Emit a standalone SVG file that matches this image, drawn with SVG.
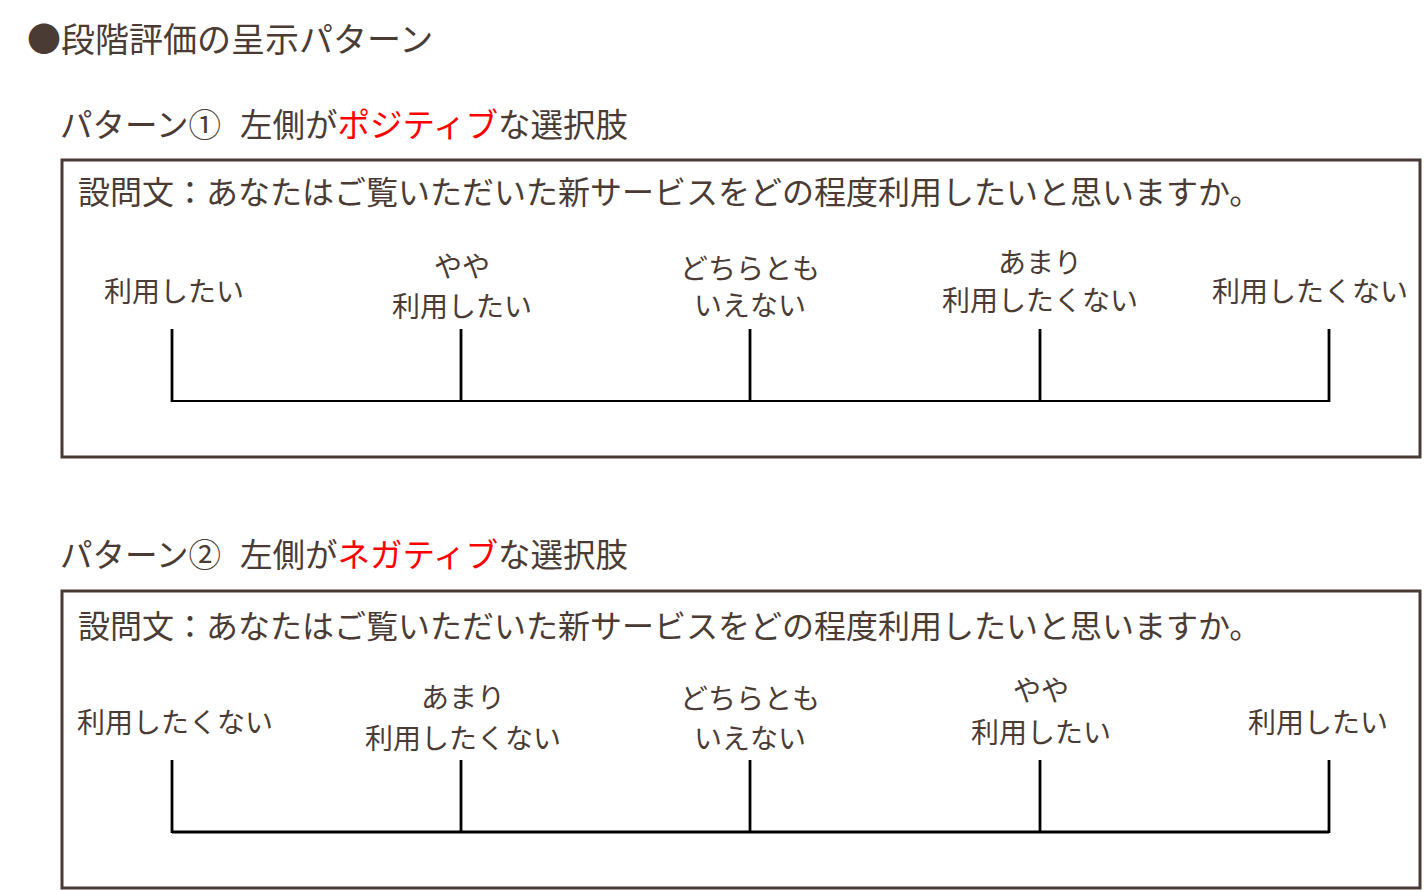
<svg xmlns="http://www.w3.org/2000/svg" width="1427" height="890" viewBox="0 0 1427 890">
<style>
text{font-family:"Noto Sans CJK JP","Noto Sans",sans-serif;fill:#4a3c35;}
.title{font-size:34px;}
.head{font-size:32.5px;}
.q{font-size:32px;}
.lbl{font-size:28px;text-anchor:middle;}
.red{fill:#ff0000;}
.box{fill:#ffffff;stroke:#4a3a33;stroke-width:3;}
.tick{stroke:#000000;stroke-width:2.8;fill:none;}
.base{stroke:#000000;stroke-width:2.2;fill:none;}
</style>
<rect width="1427" height="890" fill="#ffffff"/>
<g id="title"><text class="title" x="27" y="52">●段階評価の呈示パターン</text></g>

<g id="pattern1">
<text class="head" x="60" y="137">パターン①<tspan x="240">左側が</tspan><tspan class="red">ポジティブ</tspan><tspan>な選択肢</tspan></text>
<rect class="box" x="62" y="160" width="1358" height="297"/>
<text class="q" x="78" y="204">設問文：あなたはご覧いただいた新サービスをどの程度利用したいと思いますか。</text>
<g id="p1-opt1"><text class="lbl" x="174" y="302">利用したい</text></g>
<g id="p1-opt2"><text class="lbl" x="462" y="277">やや</text><text class="lbl" x="462" y="317">利用したい</text></g>
<g id="p1-opt3"><text class="lbl" x="750" y="279">どちらとも</text><text class="lbl" x="750" y="316">いえない</text></g>
<g id="p1-opt4"><text class="lbl" x="1040" y="273">あまり</text><text class="lbl" x="1040" y="311">利用したくない</text></g>
<g id="p1-opt5"><text class="lbl" x="1310" y="302">利用したくない</text></g>
<g id="p1-scale">
<line class="base" x1="172" y1="401" x2="1329" y2="401"/>
<line class="tick" x1="172" y1="329" x2="172" y2="402"/>
<line class="tick" x1="461" y1="329" x2="461" y2="402"/>
<line class="tick" x1="750" y1="329" x2="750" y2="402"/>
<line class="tick" x1="1040" y1="329" x2="1040" y2="402"/>
<line class="tick" x1="1329" y1="329" x2="1329" y2="402"/>
</g>
</g>

<g id="pattern2">
<text class="head" x="60" y="567">パターン②<tspan x="240">左側が</tspan><tspan class="red">ネガティブ</tspan><tspan>な選択肢</tspan></text>
<rect class="box" x="62" y="591" width="1358" height="297"/>
<text class="q" x="78" y="638">設問文：あなたはご覧いただいた新サービスをどの程度利用したいと思いますか。</text>
<g id="p2-opt1"><text class="lbl" x="175" y="733">利用したくない</text></g>
<g id="p2-opt2"><text class="lbl" x="463" y="708">あまり</text><text class="lbl" x="463" y="749">利用したくない</text></g>
<g id="p2-opt3"><text class="lbl" x="750" y="709">どちらとも</text><text class="lbl" x="750" y="749">いえない</text></g>
<g id="p2-opt4"><text class="lbl" x="1041" y="701">やや</text><text class="lbl" x="1041" y="743">利用したい</text></g>
<g id="p2-opt5"><text class="lbl" x="1318" y="733">利用したい</text></g>
<g id="p2-scale">
<line class="base" style="stroke-width:3" x1="172" y1="832" x2="1329" y2="832"/>
<line class="tick" x1="172" y1="760" x2="172" y2="833"/>
<line class="tick" x1="461" y1="760" x2="461" y2="833"/>
<line class="tick" x1="750" y1="760" x2="750" y2="833"/>
<line class="tick" x1="1040" y1="760" x2="1040" y2="833"/>
<line class="tick" x1="1329" y1="760" x2="1329" y2="833"/>
</g>
</g>
</svg>
